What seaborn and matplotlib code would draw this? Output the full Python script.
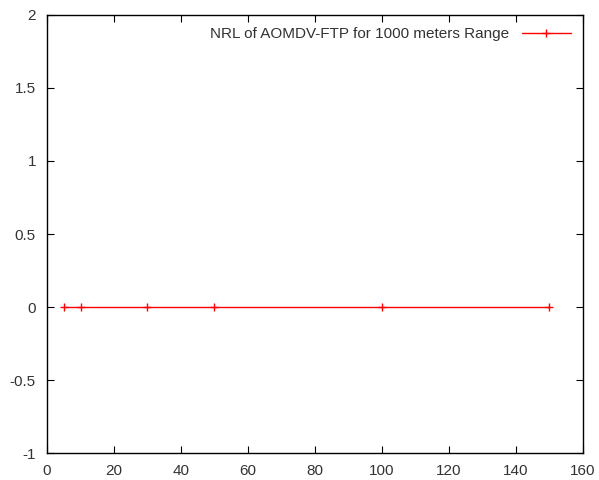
import pandas as pd
import matplotlib
matplotlib.use("Agg")
import matplotlib.pyplot as plt
import seaborn as sns

# Data
nodes = [5, 10, 30, 50, 100, 150]
nrl = [0, 0, 0, 0, 0, 0]
label = "NRL of AOMDV-FTP for 1000 meters Range"

df = pd.DataFrame({"nodes": nodes, "nrl": nrl})

sns.set_style("ticks")
plt.rcParams['font.family'] = ['Liberation Sans', 'DejaVu Sans']

fig = plt.figure(figsize=(5.99, 4.8), dpi=100)
ax = fig.add_axes([0.0785, 0.056, 0.8945, 0.913])

sns.lineplot(data=df, x="nodes", y="nrl", color="#ff0000", marker="+",
             markersize=6, markeredgewidth=1, markeredgecolor="#ff0000",
             linewidth=1, label=label, ax=ax)

ax.set_xlim(0, 160)
ax.set_ylim(-1, 2)
ax.set_xticks(range(0, 161, 20))
ax.set_yticks([-1, -0.5, 0, 0.5, 1, 1.5, 2])
ax.set_yticklabels(["-1", "-0.5", "0", "0.5", "1", "1.5", "2"])
ax.set_xlabel("")
ax.set_ylabel("")
ax.tick_params(direction="in", top=True, right=True, length=5, width=0.8,
               labelsize=11, colors="black", labelcolor="#333333", pad=8)
for s in ax.spines.values():
    s.set_linewidth(1)
    s.set_color("black")

leg = ax.legend(loc="upper right", frameon=False, markerfirst=False,
                fontsize=11, handlelength=3.2, borderaxespad=0.4)
for t in leg.get_texts():
    t.set_color("#333333")

fig.savefig("out.png", dpi=100)
